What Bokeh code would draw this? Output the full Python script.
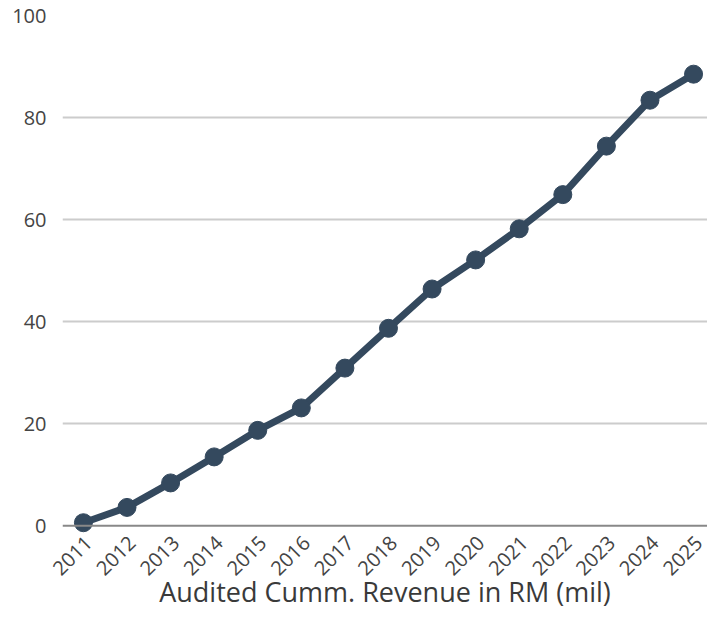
from bokeh.plotting import figure
from bokeh.models import Range1d, FixedTicker, Span, CustomJSTickFormatter
from bokeh.embed import file_html
from bokeh.resources import INLINE
import math

years = [2011, 2012, 2013, 2014, 2015, 2016, 2017, 2018, 2019, 2020, 2021, 2022, 2023, 2024, 2025]
revenue = [0.6, 3.6, 8.4, 13.5, 18.7, 23.1, 30.9, 38.7, 46.4, 52.1, 58.2, 64.9, 74.4, 83.4, 88.5]
y_ticks = [0, 20, 40, 60, 80, 100]
title_text = "Audited Cumm. Revenue in RM (mil)"

LINE = "#34495e"
FONT = "Open Sans"
LABEL_SHIFT = 0.12  # shift of rotated year labels to the right of their point

p = figure(width=707, height=612, output_backend="svg", toolbar_location=None,
           x_range=Range1d(2010.52, 2025.32), y_range=Range1d(-2.1, 100),
           min_border_left=62, min_border_right=0, min_border_top=15, min_border_bottom=20)
p.outline_line_color = None
p.background_fill_color = "white"
p.border_fill_color = "white"

p.xgrid.grid_line_color = None
p.ygrid.grid_line_color = "#cccccc"
p.ygrid.grid_line_width = 2
p.ygrid.ticker = FixedTicker(ticks=y_ticks[1:])

p.xaxis.ticker = FixedTicker(ticks=[y + LABEL_SHIFT for y in years])
p.xaxis.formatter = CustomJSTickFormatter(code="return String(Math.floor(tick));")
p.xaxis.major_label_orientation = math.pi / 4
p.xaxis.axis_line_color = None
p.xaxis.major_tick_line_color = None
p.xaxis.minor_tick_line_color = None
p.xaxis.major_tick_out = 0
p.xaxis.major_tick_in = 0
p.xaxis.major_label_standoff = 3
p.xaxis.major_label_text_font = FONT
p.xaxis.major_label_text_font_size = "20px"
p.xaxis.major_label_text_color = "#444444"
p.xaxis.axis_label = title_text
p.xaxis.axis_label_text_font = FONT
p.xaxis.axis_label_text_font_size = "27px"
p.xaxis.axis_label_text_font_style = "normal"
p.xaxis.axis_label_text_color = "#3a3a3a"
p.xaxis.axis_label_standoff = -12

p.yaxis.ticker = FixedTicker(ticks=y_ticks)
p.yaxis.axis_line_color = None
p.yaxis.major_tick_line_color = None
p.yaxis.minor_tick_line_color = None
p.yaxis.major_tick_out = 0
p.yaxis.major_tick_in = 0
p.yaxis.major_label_standoff = 16
p.yaxis.major_label_text_font = FONT
p.yaxis.major_label_text_font_size = "20px"
p.yaxis.major_label_text_color = "#444444"

zero = Span(location=0, dimension="width", line_color="#888888", line_width=2)
p.add_layout(zero)

p.line(years, revenue, line_color=LINE, line_width=7)
p.scatter(years, revenue, size=18, fill_color=LINE, line_color=LINE)

open("out.html", "w").write(file_html(p, INLINE))
